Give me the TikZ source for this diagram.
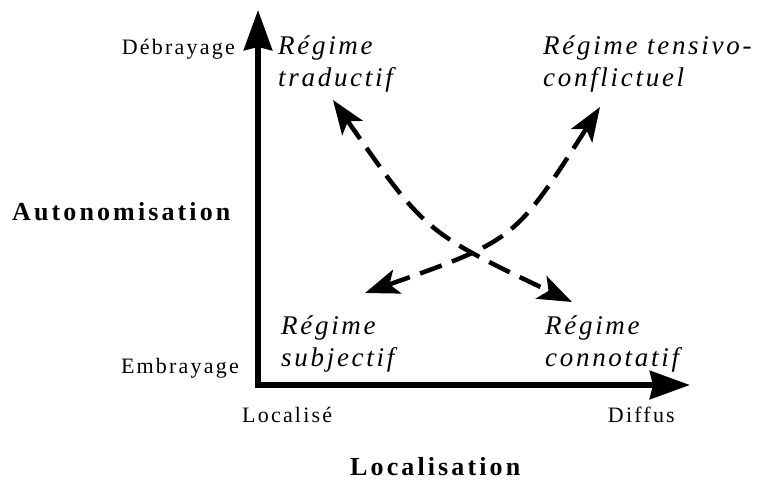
\documentclass[tikz,border=0pt]{standalone}
\usepackage{fontspec}
\setmainfont{Liberation Serif}[LetterSpace=10,BoldFeatures={LetterSpace=12}]
\usetikzlibrary{arrows.meta}
\tikzstyle{lbl}=[inner sep=0pt,font=\fontsize{22}{26}\selectfont]
\tikzstyle{ttl}=[inner sep=0pt,font=\fontsize{26}{30}\selectfont\bfseries]
\tikzstyle{rg}=[inner sep=0pt,align=left,font=\fontsize{27}{32}\selectfont\itshape]
\tikzstyle{axis}=[line width=6pt,line cap=rect,
  -{Stealth[length=40pt,width=28pt,inset=3pt]}]
\tikzstyle{flow}=[line width=4.5pt,dash pattern=on 23pt off 11pt,
  {Stealth[length=34pt,width=25pt,inset=8pt]}-{Stealth[length=34pt,width=25pt,inset=8pt]}]
\tikzstyle{none}=[inner sep=0pt]

\begin{document}
\begin{tikzpicture}[x=1pt,y=-1pt]
            \useasboundingbox (0, 0) rectangle (758, 482);
            \node [style=none] (0) at (258, 385) {};
            \node [style=none] (1) at (258, 10) {};
            \node [style=none] (2) at (690, 385) {};
            \node [style=lbl, anchor=base east] (3) at (235, 54) {Débrayage};
            \node [style=lbl, anchor=base east] (4) at (239, 373) {Embrayage};
            \node [style=ttl, anchor=base west] (5) at (12, 220) {Autonomisation};
            \node [style=lbl, anchor=base west] (6) at (242, 422) {Localisé};
            \node [style=lbl, anchor=base east] (7) at (675, 422) {Diffus};
            \node [style=ttl, anchor=base west] (8) at (350, 475) {Localisation};
            \node [style=rg, anchor=base west] (9) at (278, 86) {Régime\\traductif};
            \node [style=rg, anchor=base west] (10) at (543, 86) {Régime tensivo-\\conflictuel};
            \node [style=rg, anchor=base west] (11) at (281, 366) {Régime\\subjectif};
            \node [style=rg, anchor=base west] (12) at (545, 366) {Régime\\connotatif};
            \node [style=none] (13) at (333, 100) {};
            \node [style=none] (14) at (572, 302) {};
            \node [style=none] (15) at (365, 293) {};
            \node [style=none] (16) at (600, 107) {};
            \draw [style=axis] (0.center) to (1.center);
            \draw [style=axis] (0.center) to (2.center);
            \draw [style=flow] (13.center) .. controls (425, 232) .. (14.center);
            \draw [style=flow] (15.center) .. controls (515, 240) .. (16.center);
    \end{tikzpicture}
\end{document}
